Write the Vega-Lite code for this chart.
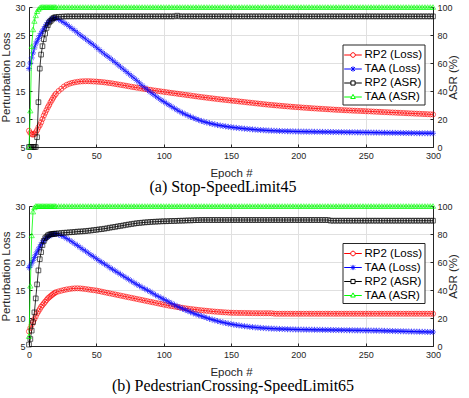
{
"$schema": "https://vega.github.io/schema/vega-lite/v6.json",
"padding": {"left": 0, "top": 2, "right": 0, "bottom": 0},
"spacing": 6,
"datasets": {
"a": [
{"e":0,"rl":7.9,"tl":19.0,"ra":0,"ta":0},
{"e":1,"rl":7.5,"tl":20.0,"ra":0,"ta":26},
{"e":2,"rl":7.3,"tl":20.9,"ra":0,"ta":72},
{"e":3,"rl":7.2,"tl":21.8,"ra":0,"ta":84},
{"e":4,"rl":7.3,"tl":22.7,"ra":0,"ta":90},
{"e":5,"rl":7.6,"tl":23.4,"ra":0,"ta":94},
{"e":6,"rl":8.0,"tl":23.9,"ra":7,"ta":97},
{"e":7,"rl":8.5,"tl":24.4,"ra":32,"ta":98.5},
{"e":8,"rl":8.9,"tl":24.9,"ra":56,"ta":99.5},
{"e":9,"rl":9.4,"tl":25.3,"ra":66,"ta":100},
{"e":10,"rl":10.0,"tl":25.7,"ra":72,"ta":100},
{"e":11,"rl":10.6,"tl":26.1,"ra":77,"ta":100},
{"e":12,"rl":11.1,"tl":26.5,"ra":81,"ta":100},
{"e":13,"rl":11.6,"tl":26.9,"ra":85,"ta":100},
{"e":14,"rl":12.1,"tl":27.2,"ra":87,"ta":100},
{"e":15,"rl":12.5,"tl":27.5,"ra":89,"ta":100},
{"e":16,"rl":13.0,"tl":27.7,"ra":90,"ta":100},
{"e":17,"rl":13.4,"tl":27.9,"ra":91,"ta":100},
{"e":18,"rl":13.8,"tl":28.0,"ra":92,"ta":100},
{"e":19,"rl":14.2,"tl":28.0,"ra":92.5,"ta":100},
{"e":20,"rl":14.5,"tl":28.0,"ra":92.8,"ta":100},
{"e":22,"rl":15.0,"tl":27.8,"ra":93.0,"ta":100},
{"e":24,"rl":15.4,"tl":27.5,"ra":93.1,"ta":100},
{"e":26,"rl":15.8,"tl":27.2,"ra":93.2,"ta":100},
{"e":28,"rl":16.1,"tl":26.9,"ra":93.3,"ta":100},
{"e":30,"rl":16.3,"tl":26.5,"ra":93.3,"ta":100},
{"e":32,"rl":16.45,"tl":26.15,"ra":93.3,"ta":100},
{"e":34,"rl":16.55,"tl":25.8,"ra":93.3,"ta":100},
{"e":36,"rl":16.63,"tl":25.4,"ra":93.3,"ta":100},
{"e":38,"rl":16.7,"tl":25.0,"ra":93.3,"ta":100},
{"e":40,"rl":16.73,"tl":24.65,"ra":93.3,"ta":100},
{"e":42,"rl":16.75,"tl":24.3,"ra":93.3,"ta":100},
{"e":44,"rl":16.75,"tl":23.9,"ra":93.3,"ta":100},
{"e":46,"rl":16.73,"tl":23.55,"ra":93.3,"ta":100},
{"e":48,"rl":16.7,"tl":23.2,"ra":93.3,"ta":100},
{"e":50,"rl":16.68,"tl":22.8,"ra":93.3,"ta":100},
{"e":52,"rl":16.64,"tl":22.4,"ra":93.3,"ta":100},
{"e":54,"rl":16.6,"tl":22.0,"ra":93.3,"ta":100},
{"e":56,"rl":16.55,"tl":21.6,"ra":93.3,"ta":100},
{"e":58,"rl":16.48,"tl":21.25,"ra":93.3,"ta":100},
{"e":60,"rl":16.42,"tl":20.9,"ra":93.3,"ta":100},
{"e":62,"rl":16.35,"tl":20.5,"ra":93.3,"ta":100},
{"e":64,"rl":16.26,"tl":20.1,"ra":93.3,"ta":100},
{"e":66,"rl":16.18,"tl":19.7,"ra":93.3,"ta":100},
{"e":68,"rl":16.1,"tl":19.3,"ra":93.3,"ta":100},
{"e":70,"rl":16.02,"tl":18.9,"ra":93.3,"ta":100},
{"e":72,"rl":15.94,"tl":18.5,"ra":93.3,"ta":100},
{"e":74,"rl":15.85,"tl":18.1,"ra":93.3,"ta":100},
{"e":76,"rl":15.76,"tl":17.7,"ra":93.3,"ta":100},
{"e":78,"rl":15.68,"tl":17.3,"ra":93.3,"ta":100},
{"e":80,"rl":15.6,"tl":16.9,"ra":93.3,"ta":100},
{"e":82,"rl":15.52,"tl":16.45,"ra":93.3,"ta":100},
{"e":84,"rl":15.44,"tl":16.0,"ra":93.3,"ta":100},
{"e":86,"rl":15.36,"tl":15.6,"ra":93.3,"ta":100},
{"e":88,"rl":15.29,"tl":15.2,"ra":93.3,"ta":100},
{"e":90,"rl":15.21,"tl":14.8,"ra":93.3,"ta":100},
{"e":92,"rl":15.13,"tl":14.45,"ra":93.3,"ta":100},
{"e":94,"rl":15.06,"tl":14.1,"ra":93.3,"ta":100},
{"e":96,"rl":14.99,"tl":13.75,"ra":93.3,"ta":100},
{"e":98,"rl":14.92,"tl":13.4,"ra":93.3,"ta":100},
{"e":100,"rl":14.85,"tl":13.1,"ra":93.3,"ta":100},
{"e":102,"rl":14.79,"tl":12.8,"ra":93.3,"ta":100},
{"e":104,"rl":14.72,"tl":12.5,"ra":93.3,"ta":100},
{"e":106,"rl":14.65,"tl":12.2,"ra":93.3,"ta":100},
{"e":108,"rl":14.59,"tl":11.9,"ra":93.3,"ta":100},
{"e":110,"rl":14.52,"tl":11.6,"ra":93.8,"ta":100},
{"e":112,"rl":14.45,"tl":11.33,"ra":93.3,"ta":100},
{"e":114,"rl":14.39,"tl":11.07,"ra":93.3,"ta":100},
{"e":116,"rl":14.32,"tl":10.85,"ra":93.3,"ta":100},
{"e":118,"rl":14.25,"tl":10.62,"ra":93.3,"ta":100},
{"e":120,"rl":14.19,"tl":10.4,"ra":93.3,"ta":100},
{"e":122,"rl":14.12,"tl":10.2,"ra":93.3,"ta":100},
{"e":124,"rl":14.05,"tl":10.0,"ra":93.3,"ta":100},
{"e":126,"rl":13.99,"tl":9.82,"ra":93.3,"ta":100},
{"e":128,"rl":13.92,"tl":9.65,"ra":93.3,"ta":100},
{"e":130,"rl":13.86,"tl":9.5,"ra":93.3,"ta":100},
{"e":132,"rl":13.8,"tl":9.38,"ra":93.3,"ta":100},
{"e":134,"rl":13.74,"tl":9.25,"ra":93.3,"ta":100},
{"e":136,"rl":13.68,"tl":9.14,"ra":93.3,"ta":100},
{"e":138,"rl":13.62,"tl":9.03,"ra":93.3,"ta":100},
{"e":140,"rl":13.56,"tl":8.92,"ra":93.3,"ta":100},
{"e":142,"rl":13.51,"tl":8.84,"ra":93.3,"ta":100},
{"e":144,"rl":13.45,"tl":8.76,"ra":93.3,"ta":100},
{"e":146,"rl":13.4,"tl":8.68,"ra":93.3,"ta":100},
{"e":148,"rl":13.35,"tl":8.61,"ra":93.3,"ta":100},
{"e":150,"rl":13.29,"tl":8.54,"ra":93.3,"ta":100},
{"e":152,"rl":13.24,"tl":8.48,"ra":93.3,"ta":100},
{"e":154,"rl":13.19,"tl":8.43,"ra":93.3,"ta":100},
{"e":156,"rl":13.13,"tl":8.37,"ra":93.3,"ta":100},
{"e":158,"rl":13.08,"tl":8.32,"ra":93.3,"ta":100},
{"e":160,"rl":13.03,"tl":8.27,"ra":93.3,"ta":100},
{"e":162,"rl":12.97,"tl":8.23,"ra":93.3,"ta":100},
{"e":164,"rl":12.92,"tl":8.18,"ra":93.3,"ta":100},
{"e":166,"rl":12.87,"tl":8.14,"ra":93.3,"ta":100},
{"e":168,"rl":12.81,"tl":8.1,"ra":93.3,"ta":100},
{"e":170,"rl":12.76,"tl":8.06,"ra":93.3,"ta":100},
{"e":172,"rl":12.71,"tl":8.03,"ra":93.3,"ta":100},
{"e":174,"rl":12.65,"tl":8.0,"ra":93.3,"ta":100},
{"e":176,"rl":12.6,"tl":7.97,"ra":93.3,"ta":100},
{"e":178,"rl":12.55,"tl":7.94,"ra":93.3,"ta":100},
{"e":180,"rl":12.51,"tl":7.92,"ra":93.3,"ta":100},
{"e":182,"rl":12.46,"tl":7.9,"ra":93.3,"ta":100},
{"e":184,"rl":12.42,"tl":7.88,"ra":93.3,"ta":100},
{"e":186,"rl":12.38,"tl":7.86,"ra":93.3,"ta":100},
{"e":188,"rl":12.33,"tl":7.84,"ra":93.3,"ta":100},
{"e":190,"rl":12.29,"tl":7.83,"ra":93.3,"ta":100},
{"e":192,"rl":12.25,"tl":7.81,"ra":93.3,"ta":100},
{"e":194,"rl":12.21,"tl":7.8,"ra":93.3,"ta":100},
{"e":196,"rl":12.17,"tl":7.79,"ra":93.3,"ta":100},
{"e":198,"rl":12.13,"tl":7.77,"ra":93.3,"ta":100},
{"e":200,"rl":12.1,"tl":7.76,"ra":93.3,"ta":100},
{"e":202,"rl":12.06,"tl":7.75,"ra":93.3,"ta":100},
{"e":204,"rl":12.02,"tl":7.75,"ra":93.3,"ta":100},
{"e":206,"rl":11.99,"tl":7.74,"ra":93.3,"ta":100},
{"e":208,"rl":11.96,"tl":7.73,"ra":93.3,"ta":100},
{"e":210,"rl":11.92,"tl":7.73,"ra":93.3,"ta":100},
{"e":212,"rl":11.89,"tl":7.72,"ra":93.3,"ta":100},
{"e":214,"rl":11.86,"tl":7.71,"ra":93.3,"ta":100},
{"e":216,"rl":11.83,"tl":7.71,"ra":93.3,"ta":100},
{"e":218,"rl":11.8,"tl":7.7,"ra":93.3,"ta":100},
{"e":220,"rl":11.77,"tl":7.69,"ra":93.3,"ta":100},
{"e":222,"rl":11.74,"tl":7.69,"ra":93.3,"ta":100},
{"e":224,"rl":11.71,"tl":7.68,"ra":93.3,"ta":100},
{"e":226,"rl":11.68,"tl":7.67,"ra":93.3,"ta":100},
{"e":228,"rl":11.65,"tl":7.67,"ra":93.3,"ta":100},
{"e":230,"rl":11.63,"tl":7.66,"ra":93.3,"ta":100},
{"e":232,"rl":11.6,"tl":7.65,"ra":93.3,"ta":100},
{"e":234,"rl":11.57,"tl":7.65,"ra":93.3,"ta":100},
{"e":236,"rl":11.55,"tl":7.64,"ra":93.3,"ta":100},
{"e":238,"rl":11.53,"tl":7.63,"ra":93.3,"ta":100},
{"e":240,"rl":11.5,"tl":7.63,"ra":93.3,"ta":100},
{"e":242,"rl":11.48,"tl":7.62,"ra":93.3,"ta":100},
{"e":244,"rl":11.46,"tl":7.61,"ra":93.3,"ta":100},
{"e":246,"rl":11.44,"tl":7.61,"ra":93.3,"ta":100},
{"e":248,"rl":11.42,"tl":7.6,"ra":93.3,"ta":100},
{"e":250,"rl":11.39,"tl":7.59,"ra":93.3,"ta":100},
{"e":252,"rl":11.37,"tl":7.59,"ra":93.3,"ta":100},
{"e":254,"rl":11.35,"tl":7.58,"ra":93.3,"ta":100},
{"e":256,"rl":11.32,"tl":7.57,"ra":93.3,"ta":100},
{"e":258,"rl":11.3,"tl":7.57,"ra":93.3,"ta":100},
{"e":260,"rl":11.28,"tl":7.56,"ra":93.3,"ta":100},
{"e":262,"rl":11.25,"tl":7.55,"ra":93.3,"ta":100},
{"e":264,"rl":11.23,"tl":7.55,"ra":93.3,"ta":100},
{"e":266,"rl":11.21,"tl":7.54,"ra":93.3,"ta":100},
{"e":268,"rl":11.18,"tl":7.53,"ra":93.3,"ta":100},
{"e":270,"rl":11.16,"tl":7.53,"ra":93.3,"ta":100},
{"e":272,"rl":11.14,"tl":7.52,"ra":93.3,"ta":100},
{"e":274,"rl":11.11,"tl":7.51,"ra":93.3,"ta":100},
{"e":276,"rl":11.09,"tl":7.51,"ra":93.3,"ta":100},
{"e":278,"rl":11.07,"tl":7.5,"ra":93.3,"ta":100},
{"e":280,"rl":11.04,"tl":7.49,"ra":93.3,"ta":100},
{"e":282,"rl":11.02,"tl":7.49,"ra":93.3,"ta":100},
{"e":284,"rl":11.0,"tl":7.48,"ra":93.3,"ta":100},
{"e":286,"rl":10.97,"tl":7.48,"ra":93.3,"ta":100},
{"e":288,"rl":10.95,"tl":7.47,"ra":93.3,"ta":100},
{"e":290,"rl":10.93,"tl":7.46,"ra":93.3,"ta":100},
{"e":292,"rl":10.9,"tl":7.46,"ra":93.3,"ta":100},
{"e":294,"rl":10.88,"tl":7.46,"ra":93.3,"ta":100},
{"e":296,"rl":10.86,"tl":7.45,"ra":93.3,"ta":100},
{"e":298,"rl":10.83,"tl":7.45,"ra":93.3,"ta":100},
{"e":300,"rl":10.81,"tl":7.45,"ra":93.3,"ta":100}
],
"b": [
{"e":0,"rl":7.6,"tl":19.0,"ra":1,"ta":7},
{"e":1,"rl":8.2,"tl":19.3,"ra":5,"ta":43},
{"e":2,"rl":8.8,"tl":19.8,"ra":11,"ta":79},
{"e":3,"rl":9.3,"tl":20.3,"ra":17,"ta":96},
{"e":4,"rl":9.8,"tl":20.8,"ra":24,"ta":99},
{"e":5,"rl":10.3,"tl":21.3,"ra":34,"ta":100},
{"e":6,"rl":10.8,"tl":21.8,"ra":44,"ta":100},
{"e":7,"rl":11.2,"tl":22.3,"ra":54,"ta":100},
{"e":8,"rl":11.6,"tl":22.7,"ra":62,"ta":100},
{"e":9,"rl":12.0,"tl":23.1,"ra":67,"ta":100},
{"e":10,"rl":12.3,"tl":23.5,"ra":72,"ta":100},
{"e":11,"rl":12.6,"tl":23.8,"ra":75,"ta":100},
{"e":12,"rl":12.9,"tl":24.1,"ra":77,"ta":100},
{"e":13,"rl":13.2,"tl":24.3,"ra":78,"ta":100},
{"e":14,"rl":13.5,"tl":24.5,"ra":79,"ta":100},
{"e":15,"rl":13.7,"tl":24.65,"ra":79.5,"ta":100},
{"e":16,"rl":13.9,"tl":24.8,"ra":79.8,"ta":100},
{"e":17,"rl":14.1,"tl":24.9,"ra":80,"ta":100},
{"e":18,"rl":14.3,"tl":25.0,"ra":80.1,"ta":100},
{"e":19,"rl":14.45,"tl":25.0,"ra":80.2,"ta":100},
{"e":20,"rl":14.6,"tl":25.0,"ra":80.3,"ta":100},
{"e":22,"rl":14.75,"tl":24.9,"ra":80.5,"ta":100},
{"e":24,"rl":14.88,"tl":24.7,"ra":80.7,"ta":100},
{"e":26,"rl":15.0,"tl":24.5,"ra":80.9,"ta":100},
{"e":28,"rl":15.1,"tl":24.2,"ra":81.0,"ta":100},
{"e":30,"rl":15.18,"tl":23.9,"ra":81.2,"ta":100},
{"e":32,"rl":15.25,"tl":23.6,"ra":81.3,"ta":100},
{"e":34,"rl":15.29,"tl":23.25,"ra":81.5,"ta":100},
{"e":36,"rl":15.3,"tl":22.95,"ra":81.7,"ta":100},
{"e":38,"rl":15.28,"tl":22.6,"ra":81.8,"ta":100},
{"e":40,"rl":15.23,"tl":22.25,"ra":81.9,"ta":100},
{"e":42,"rl":15.17,"tl":21.95,"ra":82.1,"ta":100},
{"e":44,"rl":15.1,"tl":21.6,"ra":82.3,"ta":100},
{"e":46,"rl":15.03,"tl":21.25,"ra":82.5,"ta":100},
{"e":48,"rl":14.97,"tl":20.95,"ra":82.8,"ta":100},
{"e":50,"rl":14.9,"tl":20.6,"ra":83.0,"ta":100},
{"e":52,"rl":14.8,"tl":20.25,"ra":83.3,"ta":100},
{"e":54,"rl":14.7,"tl":19.95,"ra":83.5,"ta":100},
{"e":56,"rl":14.6,"tl":19.65,"ra":83.8,"ta":100},
{"e":58,"rl":14.5,"tl":19.35,"ra":84.1,"ta":100},
{"e":60,"rl":14.4,"tl":19.0,"ra":84.5,"ta":100},
{"e":62,"rl":14.3,"tl":18.7,"ra":84.8,"ta":100},
{"e":64,"rl":14.2,"tl":18.4,"ra":85.1,"ta":100},
{"e":66,"rl":14.1,"tl":18.1,"ra":85.5,"ta":100},
{"e":68,"rl":14.0,"tl":17.8,"ra":85.8,"ta":100},
{"e":70,"rl":13.9,"tl":17.5,"ra":86.1,"ta":100},
{"e":72,"rl":13.8,"tl":17.2,"ra":86.5,"ta":100},
{"e":74,"rl":13.7,"tl":16.9,"ra":86.8,"ta":100},
{"e":76,"rl":13.6,"tl":16.6,"ra":87.1,"ta":100},
{"e":78,"rl":13.5,"tl":16.3,"ra":87.4,"ta":100},
{"e":80,"rl":13.4,"tl":16.0,"ra":87.7,"ta":100},
{"e":82,"rl":13.3,"tl":15.75,"ra":87.9,"ta":100},
{"e":84,"rl":13.2,"tl":15.45,"ra":88.1,"ta":100},
{"e":86,"rl":13.1,"tl":15.2,"ra":88.3,"ta":100},
{"e":88,"rl":13.0,"tl":14.95,"ra":88.4,"ta":100},
{"e":90,"rl":12.9,"tl":14.7,"ra":88.6,"ta":100},
{"e":92,"rl":12.8,"tl":14.4,"ra":88.7,"ta":100},
{"e":94,"rl":12.7,"tl":14.1,"ra":88.8,"ta":100},
{"e":96,"rl":12.6,"tl":13.85,"ra":88.9,"ta":100},
{"e":98,"rl":12.5,"tl":13.6,"ra":89.0,"ta":100},
{"e":100,"rl":12.4,"tl":13.35,"ra":89.1,"ta":100},
{"e":102,"rl":12.3,"tl":13.1,"ra":89.1,"ta":100},
{"e":104,"rl":12.2,"tl":12.85,"ra":89.2,"ta":100},
{"e":106,"rl":12.12,"tl":12.6,"ra":89.3,"ta":100},
{"e":108,"rl":12.04,"tl":12.35,"ra":89.3,"ta":100},
{"e":110,"rl":11.96,"tl":12.1,"ra":89.4,"ta":100},
{"e":112,"rl":11.89,"tl":11.87,"ra":89.5,"ta":100},
{"e":114,"rl":11.81,"tl":11.65,"ra":89.5,"ta":100},
{"e":116,"rl":11.74,"tl":11.45,"ra":89.6,"ta":100},
{"e":118,"rl":11.67,"tl":11.25,"ra":89.7,"ta":100},
{"e":120,"rl":11.61,"tl":11.05,"ra":89.7,"ta":100},
{"e":122,"rl":11.55,"tl":10.85,"ra":89.8,"ta":100},
{"e":124,"rl":11.49,"tl":10.68,"ra":89.9,"ta":100},
{"e":126,"rl":11.43,"tl":10.5,"ra":89.9,"ta":100},
{"e":128,"rl":11.38,"tl":10.35,"ra":90,"ta":100},
{"e":130,"rl":11.33,"tl":10.18,"ra":90,"ta":100},
{"e":132,"rl":11.28,"tl":10.02,"ra":90,"ta":100},
{"e":134,"rl":11.23,"tl":9.85,"ra":90,"ta":100},
{"e":136,"rl":11.18,"tl":9.72,"ra":90,"ta":100},
{"e":138,"rl":11.14,"tl":9.58,"ra":90,"ta":100},
{"e":140,"rl":11.1,"tl":9.45,"ra":90,"ta":100},
{"e":142,"rl":11.07,"tl":9.33,"ra":90,"ta":100},
{"e":144,"rl":11.03,"tl":9.21,"ra":90,"ta":100},
{"e":146,"rl":11.0,"tl":9.1,"ra":90,"ta":100},
{"e":148,"rl":10.97,"tl":9.0,"ra":90,"ta":100},
{"e":150,"rl":10.94,"tl":8.9,"ra":90,"ta":100},
{"e":152,"rl":10.92,"tl":8.82,"ra":90,"ta":100},
{"e":154,"rl":10.91,"tl":8.74,"ra":90,"ta":100},
{"e":156,"rl":10.9,"tl":8.67,"ra":90,"ta":100},
{"e":158,"rl":10.9,"tl":8.6,"ra":90,"ta":100},
{"e":160,"rl":10.89,"tl":8.53,"ra":90,"ta":100},
{"e":162,"rl":10.88,"tl":8.48,"ra":90,"ta":100},
{"e":164,"rl":10.87,"tl":8.42,"ra":90,"ta":100},
{"e":166,"rl":10.86,"tl":8.37,"ra":90,"ta":100},
{"e":168,"rl":10.86,"tl":8.32,"ra":90,"ta":100},
{"e":170,"rl":10.85,"tl":8.28,"ra":90,"ta":100},
{"e":172,"rl":10.85,"tl":8.24,"ra":90,"ta":100},
{"e":174,"rl":10.85,"tl":8.2,"ra":90,"ta":100},
{"e":176,"rl":10.85,"tl":8.17,"ra":90,"ta":100},
{"e":178,"rl":10.85,"tl":8.14,"ra":90,"ta":100},
{"e":180,"rl":10.85,"tl":8.11,"ra":90,"ta":100},
{"e":182,"rl":10.78,"tl":8.09,"ra":90,"ta":100},
{"e":184,"rl":10.76,"tl":8.07,"ra":90,"ta":100},
{"e":186,"rl":10.76,"tl":8.05,"ra":90,"ta":100},
{"e":188,"rl":10.76,"tl":8.03,"ra":90,"ta":100},
{"e":190,"rl":10.76,"tl":8.01,"ra":90,"ta":100},
{"e":192,"rl":10.76,"tl":7.99,"ra":90,"ta":100},
{"e":194,"rl":10.76,"tl":7.98,"ra":90,"ta":100},
{"e":196,"rl":10.76,"tl":7.97,"ra":90,"ta":100},
{"e":198,"rl":10.76,"tl":7.95,"ra":90,"ta":100},
{"e":200,"rl":10.76,"tl":7.94,"ra":90,"ta":100},
{"e":202,"rl":10.76,"tl":7.93,"ra":90,"ta":100},
{"e":204,"rl":10.76,"tl":7.93,"ra":90,"ta":100},
{"e":206,"rl":10.76,"tl":7.92,"ra":90,"ta":100},
{"e":208,"rl":10.76,"tl":7.91,"ra":90,"ta":100},
{"e":210,"rl":10.76,"tl":7.91,"ra":90,"ta":100},
{"e":212,"rl":10.76,"tl":7.9,"ra":90,"ta":100},
{"e":214,"rl":10.76,"tl":7.89,"ra":90,"ta":100},
{"e":216,"rl":10.76,"tl":7.89,"ra":90,"ta":100},
{"e":218,"rl":10.76,"tl":7.88,"ra":90,"ta":100},
{"e":220,"rl":10.76,"tl":7.87,"ra":90,"ta":100},
{"e":222,"rl":10.76,"tl":7.87,"ra":90,"ta":100},
{"e":224,"rl":10.76,"tl":7.86,"ra":89.5,"ta":100},
{"e":226,"rl":10.76,"tl":7.85,"ra":89.5,"ta":100},
{"e":228,"rl":10.76,"tl":7.85,"ra":89.5,"ta":100},
{"e":230,"rl":10.76,"tl":7.84,"ra":89.5,"ta":100},
{"e":232,"rl":10.76,"tl":7.83,"ra":89.5,"ta":100},
{"e":234,"rl":10.76,"tl":7.83,"ra":89.5,"ta":100},
{"e":236,"rl":10.76,"tl":7.82,"ra":89.5,"ta":100},
{"e":238,"rl":10.76,"tl":7.81,"ra":89.5,"ta":100},
{"e":240,"rl":10.76,"tl":7.81,"ra":89.5,"ta":100},
{"e":242,"rl":10.76,"tl":7.8,"ra":89.5,"ta":100},
{"e":244,"rl":10.76,"tl":7.79,"ra":89.5,"ta":100},
{"e":246,"rl":10.76,"tl":7.79,"ra":89.5,"ta":100},
{"e":248,"rl":10.76,"tl":7.78,"ra":89.5,"ta":100},
{"e":250,"rl":10.76,"tl":7.77,"ra":89.5,"ta":100},
{"e":252,"rl":10.76,"tl":7.77,"ra":89.5,"ta":100},
{"e":254,"rl":10.76,"tl":7.76,"ra":89.5,"ta":100},
{"e":256,"rl":10.76,"tl":7.75,"ra":89.5,"ta":100},
{"e":258,"rl":10.76,"tl":7.75,"ra":89.5,"ta":100},
{"e":260,"rl":10.76,"tl":7.74,"ra":89.5,"ta":100},
{"e":262,"rl":10.76,"tl":7.73,"ra":89.5,"ta":100},
{"e":264,"rl":10.76,"tl":7.71,"ra":89.5,"ta":100},
{"e":266,"rl":10.76,"tl":7.7,"ra":89.5,"ta":100},
{"e":268,"rl":10.76,"tl":7.69,"ra":89.5,"ta":100},
{"e":270,"rl":10.76,"tl":7.67,"ra":89.5,"ta":100},
{"e":272,"rl":10.76,"tl":7.66,"ra":89.5,"ta":100},
{"e":274,"rl":10.76,"tl":7.65,"ra":89.5,"ta":100},
{"e":276,"rl":10.76,"tl":7.63,"ra":89.5,"ta":100},
{"e":278,"rl":10.76,"tl":7.62,"ra":89.5,"ta":100},
{"e":280,"rl":10.76,"tl":7.61,"ra":89.5,"ta":100},
{"e":282,"rl":10.76,"tl":7.59,"ra":89.5,"ta":100},
{"e":284,"rl":10.76,"tl":7.58,"ra":89.5,"ta":100},
{"e":286,"rl":10.76,"tl":7.57,"ra":89.5,"ta":100},
{"e":288,"rl":10.76,"tl":7.56,"ra":89.5,"ta":100},
{"e":290,"rl":10.76,"tl":7.55,"ra":89.5,"ta":100},
{"e":292,"rl":10.76,"tl":7.54,"ra":89.5,"ta":100},
{"e":294,"rl":10.76,"tl":7.53,"ra":89.5,"ta":100},
{"e":296,"rl":10.76,"tl":7.51,"ra":89.5,"ta":100},
{"e":298,"rl":10.76,"tl":7.5,"ra":89.5,"ta":100},
{"e":300,"rl":10.76,"tl":7.5,"ra":89.5,"ta":100}
]
},
"vconcat": [
{
"width": 404, "height": 140,
"data": {"name": "a"},
"transform": [{"fold": ["rl","tl","ra","ta"], "as": ["s","v"]}],
"title": {"text": "(a) Stop-SpeedLimit45", "orient": "bottom", "anchor": "middle", "dx": -8, "offset": 0},
"layer": [
{"transform": [{"filter": "datum.s==='rl'||datum.s==='tl'"}],
 "encoding": {
  "x": {"field":"e","type":"quantitative","scale":{"domain":[0,300],"nice":false,"zero":false},"axis":{"title":"Epoch #","values":[0,50,100,150,200,250,300],"grid":true}},
  "y": {"field":"v","type":"quantitative","scale":{"domain":[5,30],"nice":false,"zero":false},"axis":{"title":"Perturbation Loss","values":[5,10,15,20,25,30],"grid":true}},
  "color": {"field":"s","type":"nominal","scale":{"domain":["rl","tl","ra","ta"],"range":["#ff0000","#0000ff","#000000","#00ff00"]},
   "legend": {"orient":"none","legendX":313.5,"legendY":37.5,"title":null,
     "labelExpr":"datum.value==='rl'?'RP2 (Loss)':datum.value==='tl'?'TAA (Loss)':datum.value==='ra'?'RP2 (ASR)':'TAA (ASR)'",
     "encode":{"symbols":{"update":{"shape":{"signal":"datum.value==='rl'?'M-1.15,0H-0.3M0.3,0H1.15M-0.3,0A0.3,0.3,0,1,1,0.3,0A0.3,0.3,0,1,1,-0.3,0':datum.value==='tl'?'M-1.15,0H1.15M0,-0.34V0.34M-0.25,-0.25L0.25,0.25M-0.25,0.25L0.25,-0.25':datum.value==='ra'?'M-1.15,0H-0.27M0.27,0H1.15M-0.27,-0.27H0.27V0.27H-0.27Z':'M-1.15,0H-0.2M0.2,0H1.15M0,-0.34L0.3,0.2H-0.3Z'"}}}}}}
 },
 "layer": [
  {"mark": {"type":"line","strokeWidth":0.8}},
  {"transform": [{"filter": "datum.s==='rl'"}], "mark": {"type":"point","shape":"circle","filled":false,"size":26,"strokeWidth":0.9}},
  {"transform": [{"filter": "datum.s==='tl'"}], "mark": {"type":"point","shape":"M0,-1V1M-1,0H1M-0.7,-0.7L0.7,0.7M-0.7,0.7L0.7,-0.7","filled":false,"size":36,"strokeWidth":0.9}}
 ]},
{"transform": [{"filter": "datum.s==='ra'||datum.s==='ta'"}],
 "encoding": {
  "x": {"field":"e","type":"quantitative","scale":{"domain":[0,300],"nice":false,"zero":false},"axis":{"title":"Epoch #","values":[0,50,100,150,200,250,300],"grid":true}},
  "y": {"field":"v","type":"quantitative","scale":{"domain":[0,100],"nice":false},"axis":{"title":"ASR (%)","orient":"right","titleAngle":270,"titlePadding":6,"values":[0,20,40,60,80,100],"grid":false}},
  "color": {"field":"s","type":"nominal","scale":{"domain":["rl","tl","ra","ta"],"range":["#ff0000","#0000ff","#000000","#00ff00"]},
   "legend": {"orient":"none","legendX":313.5,"legendY":37.5,"title":null,
     "labelExpr":"datum.value==='rl'?'RP2 (Loss)':datum.value==='tl'?'TAA (Loss)':datum.value==='ra'?'RP2 (ASR)':'TAA (ASR)'",
     "encode":{"symbols":{"update":{"shape":{"signal":"datum.value==='rl'?'M-1.15,0H-0.3M0.3,0H1.15M-0.3,0A0.3,0.3,0,1,1,0.3,0A0.3,0.3,0,1,1,-0.3,0':datum.value==='tl'?'M-1.15,0H1.15M0,-0.34V0.34M-0.25,-0.25L0.25,0.25M-0.25,0.25L0.25,-0.25':datum.value==='ra'?'M-1.15,0H-0.27M0.27,0H1.15M-0.27,-0.27H0.27V0.27H-0.27Z':'M-1.15,0H-0.2M0.2,0H1.15M0,-0.34L0.3,0.2H-0.3Z'"}}}}}}
 },
 "layer": [
  {"mark": {"type":"line","strokeWidth":0.8}},
  {"transform": [{"filter": "datum.s==='ra'"}], "mark": {"type":"point","shape":"square","filled":false,"size":22,"strokeWidth":0.9}},
  {"transform": [{"filter": "datum.s==='ta'"}], "mark": {"type":"point","shape":"triangle-up","filled":false,"size":28,"strokeWidth":0.9}}
 ]}
],
"resolve": {"scale": {"y": "independent"}}
},
{
"width": 404, "height": 140,
"data": {"name": "b"},
"transform": [{"fold": ["rl","tl","ra","ta"], "as": ["s","v"]}],
"title": {"text": "(b) PedestrianCrossing-SpeedLimit65", "orient": "bottom", "anchor": "middle", "dx": 2, "offset": 0},
"layer": [
{"transform": [{"filter": "datum.s==='rl'||datum.s==='tl'"}],
 "encoding": {
  "x": {"field":"e","type":"quantitative","scale":{"domain":[0,300],"nice":false,"zero":false},"axis":{"title":"Epoch #","values":[0,50,100,150,200,250,300],"grid":true}},
  "y": {"field":"v","type":"quantitative","scale":{"domain":[5,30],"nice":false,"zero":false},"axis":{"title":"Perturbation Loss","values":[5,10,15,20,25,30],"grid":true}},
  "color": {"field":"s","type":"nominal","scale":{"domain":["rl","tl","ra","ta"],"range":["#ff0000","#0000ff","#000000","#00ff00"]},
   "legend": {"orient":"none","legendX":313.5,"legendY":37,"title":null,
     "labelExpr":"datum.value==='rl'?'RP2 (Loss)':datum.value==='tl'?'TAA (Loss)':datum.value==='ra'?'RP2 (ASR)':'TAA (ASR)'",
     "encode":{"symbols":{"update":{"shape":{"signal":"datum.value==='rl'?'M-1.15,0H-0.3M0.3,0H1.15M-0.3,0A0.3,0.3,0,1,1,0.3,0A0.3,0.3,0,1,1,-0.3,0':datum.value==='tl'?'M-1.15,0H1.15M0,-0.34V0.34M-0.25,-0.25L0.25,0.25M-0.25,0.25L0.25,-0.25':datum.value==='ra'?'M-1.15,0H-0.27M0.27,0H1.15M-0.27,-0.27H0.27V0.27H-0.27Z':'M-1.15,0H-0.2M0.2,0H1.15M0,-0.34L0.3,0.2H-0.3Z'"}}}}}}
 },
 "layer": [
  {"mark": {"type":"line","strokeWidth":0.8}},
  {"transform": [{"filter": "datum.s==='rl'"}], "mark": {"type":"point","shape":"circle","filled":false,"size":26,"strokeWidth":0.9}},
  {"transform": [{"filter": "datum.s==='tl'"}], "mark": {"type":"point","shape":"M0,-1V1M-1,0H1M-0.7,-0.7L0.7,0.7M-0.7,0.7L0.7,-0.7","filled":false,"size":36,"strokeWidth":0.9}}
 ]},
{"transform": [{"filter": "datum.s==='ra'||datum.s==='ta'"}],
 "encoding": {
  "x": {"field":"e","type":"quantitative","scale":{"domain":[0,300],"nice":false,"zero":false},"axis":{"title":"Epoch #","values":[0,50,100,150,200,250,300],"grid":true}},
  "y": {"field":"v","type":"quantitative","scale":{"domain":[0,100],"nice":false},"axis":{"title":"ASR (%)","orient":"right","titleAngle":270,"titlePadding":6,"values":[0,20,40,60,80,100],"grid":false}},
  "color": {"field":"s","type":"nominal","scale":{"domain":["rl","tl","ra","ta"],"range":["#ff0000","#0000ff","#000000","#00ff00"]},
   "legend": {"orient":"none","legendX":313.5,"legendY":37,"title":null,
     "labelExpr":"datum.value==='rl'?'RP2 (Loss)':datum.value==='tl'?'TAA (Loss)':datum.value==='ra'?'RP2 (ASR)':'TAA (ASR)'",
     "encode":{"symbols":{"update":{"shape":{"signal":"datum.value==='rl'?'M-1.15,0H-0.3M0.3,0H1.15M-0.3,0A0.3,0.3,0,1,1,0.3,0A0.3,0.3,0,1,1,-0.3,0':datum.value==='tl'?'M-1.15,0H1.15M0,-0.34V0.34M-0.25,-0.25L0.25,0.25M-0.25,0.25L0.25,-0.25':datum.value==='ra'?'M-1.15,0H-0.27M0.27,0H1.15M-0.27,-0.27H0.27V0.27H-0.27Z':'M-1.15,0H-0.2M0.2,0H1.15M0,-0.34L0.3,0.2H-0.3Z'"}}}}}}
 },
 "layer": [
  {"mark": {"type":"line","strokeWidth":0.8}},
  {"transform": [{"filter": "datum.s==='ra'"}], "mark": {"type":"point","shape":"square","filled":false,"size":22,"strokeWidth":0.9}},
  {"transform": [{"filter": "datum.s==='ta'"}], "mark": {"type":"point","shape":"triangle-up","filled":false,"size":28,"strokeWidth":0.9}}
 ]}
],
"resolve": {"scale": {"y": "independent"}}
}
],
"resolve": {"scale": {"color": "independent"}},
"config": {
 "font": "Liberation Sans",
 "view": {"stroke": "#262626", "strokeWidth": 1},
 "axis": {"labelFont": "Liberation Sans", "labelFontSize": 9, "labelColor": "#262626", "titleFont": "Liberation Sans", "titleFontSize": 11.5, "titleFontWeight": "normal", "titleColor": "#262626", "domainColor": "#262626", "tickColor": "#262626", "gridColor": "#e0e0e0", "gridWidth": 1, "tickSize": -3, "labelPadding": 7, "titlePadding": 3, "labelFlush": false, "labelOverlap": false},
 "axisX": {"titlePadding": 7},
 "legend": {"labelFont": "Liberation Sans", "labelFontSize": 11.5, "labelColor": "#000000", "symbolSize": 234, "symbolStrokeWidth": 1, "symbolFillColor": "transparent", "padding": 2, "rowPadding": 0, "labelOffset": 3, "strokeColor": "#262626", "fillColor": "#ffffff"},
 "title": {"font": "Liberation Serif", "fontSize": 16, "fontWeight": "normal", "color": "#000000"}
}
}
